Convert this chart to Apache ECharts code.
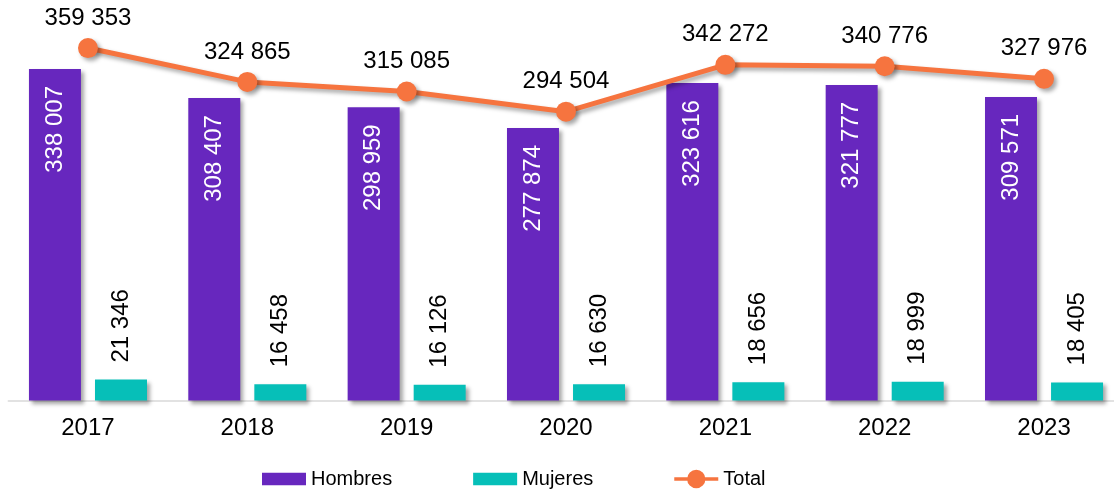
<!DOCTYPE html>
<html>
<head>
<meta charset="utf-8">
<script src="https://cdn.jsdelivr.net/npm/echarts@6/dist/echarts.min.js"></script>
<style>
html,body{margin:0;padding:0;background:#fff;overflow:hidden;width:1114px;height:494px;}
#c{width:1124px;height:494px;}
</style>
</head>
<body>
<div id="c"></div>
<script>
const years = ['2017','2018','2019','2020','2021','2022','2023'];
const hombres = [338007, 308407, 298959, 277874, 323616, 321777, 309571];
const mujeres = [21346, 16458, 16126, 16630, 18656, 18999, 18405];
const total = [359353, 324865, 315085, 294504, 342272, 340776, 327976];

const FONT = '"Liberation Sans", Arial, sans-serif';
const fmt = v => String(v).replace(/\B(?=(\d{3})+(?!\d))/g, ' ');
const shadow = {shadowColor:'rgba(0,0,0,0.35)', shadowBlur:4, shadowOffsetX:3, shadowOffsetY:3};

const chart = echarts.init(document.getElementById('c'), null, {renderer:'canvas'});
chart.setOption({
  animation: false,
  textStyle: {fontFamily: FONT},
  grid: {left: 8.3, right: 0.3, top: 8.2, bottom: 93.5, containLabel: false},
  legend: {
    left: 262, top: 469, padding: 0,
    itemWidth: 44, itemHeight: 20, itemGap: 81,
    textStyle: {fontSize: 20, color: '#000', fontFamily: FONT},
    data: [
      {name:'Hombres', icon:'path://M0,0H43V12H0Z'},
      {name:'Mujeres', icon:'path://M0,0H43V12H0Z'},
      {name:'Total', icon:'path://M0,8H48V12H0Z M24,0A10,10 0 1,1 24,20A10,10 0 1,1 24,0Z'}
    ]
  },
  xAxis: {
    type: 'category', data: years,
    axisLine: {show: true, lineStyle: {color: '#d9d9d9', width: 1.5}},
    axisTick: {show: false},
    axisLabel: {fontSize: 24, color: '#000', margin: 16, fontFamily: FONT}
  },
  yAxis: {
    type: 'value', min: 0, max: 400000, interval: 100000,
    show: false, splitLine: {show: false}
  },
  series: [
    {
      name: 'Hombres', type: 'bar', data: hombres,
      barWidth: 52, barGap: '27%',
      itemStyle: Object.assign({color: '#6727BE'}, shadow),
      label: {
        show: true, position: 'insideTop', rotate: 90, align: 'right', verticalAlign: 'middle',
        distance: 17, color: '#fff', fontSize: 24, fontFamily: FONT,
        formatter: p => fmt(p.value)
      }
    },
    {
      name: 'Mujeres', type: 'bar', data: mujeres,
      barWidth: 52,
      itemStyle: Object.assign({color: '#06BFB8'}, shadow),
      label: {
        show: true, position: 'top', rotate: 90, align: 'left', verticalAlign: 'middle',
        distance: 17, color: '#000', fontSize: 24, fontFamily: FONT,
        formatter: p => fmt(p.value)
      }
    },
    {
      name: 'Total', type: 'line', data: total, z: 5,
      symbol: 'circle', symbolSize: 20,
      lineStyle: Object.assign({color: '#F6743F', width: 5}, shadow),
      itemStyle: Object.assign({color: '#F6743F'}, shadow),
      label: {
        show: true, position: 'top', distance: 8, color: '#000', fontSize: 24, fontFamily: FONT,
        formatter: p => fmt(p.value)
      }
    }
  ]
});
</script>
</body>
</html>
